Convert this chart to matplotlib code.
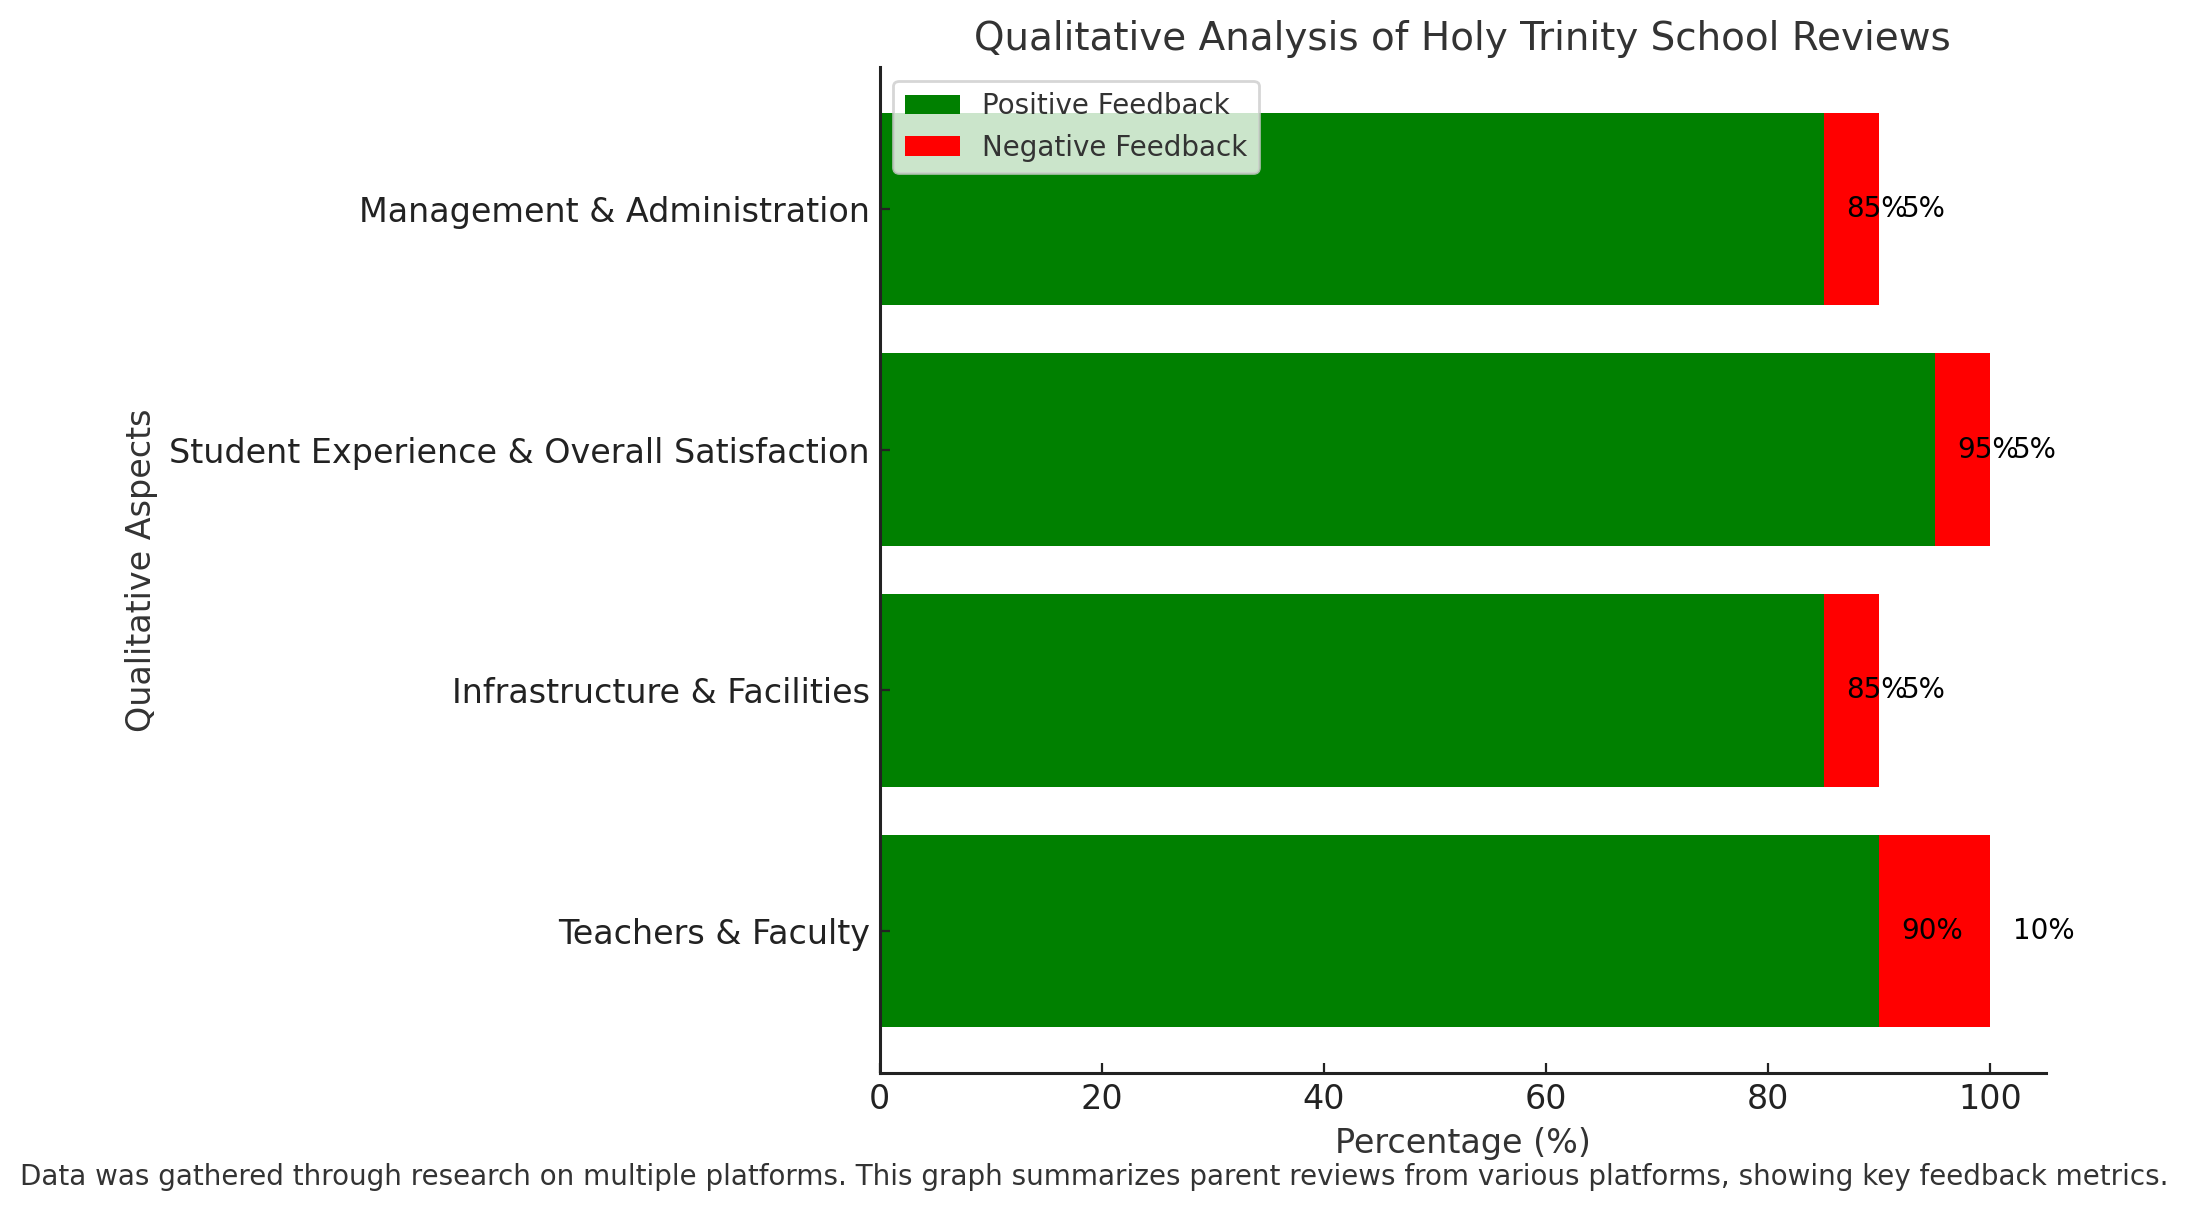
import matplotlib.pyplot as plt
import numpy as np

# Review summary data (bottom to top)
aspects = [
    "Teachers & Faculty",
    "Infrastructure & Facilities",
    "Student Experience & Overall Satisfaction",
    "Management & Administration",
]
positive = [90, 85, 95, 85]
negative = [10, 5, 5, 5]

footnote = ("Data was gathered through research on multiple platforms. This graph summarizes "
            "parent reviews from various platforms, showing key feedback metrics.")

text_color = "#333333"

fig = plt.figure(figsize=(10.94, 6.06), dpi=200)
ax = fig.add_axes([0.402, 0.1147, 0.5331, 0.83])

y = np.arange(len(aspects))
ax.barh(y, positive, color="green", label="Positive Feedback")
ax.barh(y, negative, left=positive, color="red", label="Negative Feedback")

# percentage labels
for i in range(len(aspects)):
    ax.text(positive[i] + 2, y[i], f"{positive[i]}%", ha="left", va="center",
            fontsize=10, color="black")
    ax.text(positive[i] + negative[i] + 2, y[i], f"{negative[i]}%", ha="left",
            va="center", fontsize=10, color="black")

ax.set_yticks(y)
ax.set_yticklabels(aspects, fontsize=12, color="#222222")
ax.tick_params(axis="x", labelsize=12, labelcolor="#222222")
ax.tick_params(direction="in", length=3.5, color="#222222")

ax.set_xlabel("Percentage (%)", fontsize=12, color=text_color)
ax.set_ylabel("Qualitative Aspects", fontsize=12, color=text_color)
ax.set_title("Qualitative Analysis of Holy Trinity School Reviews", fontsize=14,
             color=text_color)

for side in ["top", "right"]:
    ax.spines[side].set_visible(False)
for side in ["left", "bottom"]:
    ax.spines[side].set_color("#222222")
    ax.spines[side].set_linewidth(1.1)

leg = ax.legend(loc="upper left", fontsize=10)
for t in leg.get_texts():
    t.set_color(text_color)

fig.text(0.5, 0.022, footnote, ha="center", va="baseline", fontsize=10, color=text_color)

fig.savefig("out.png", dpi=200)
